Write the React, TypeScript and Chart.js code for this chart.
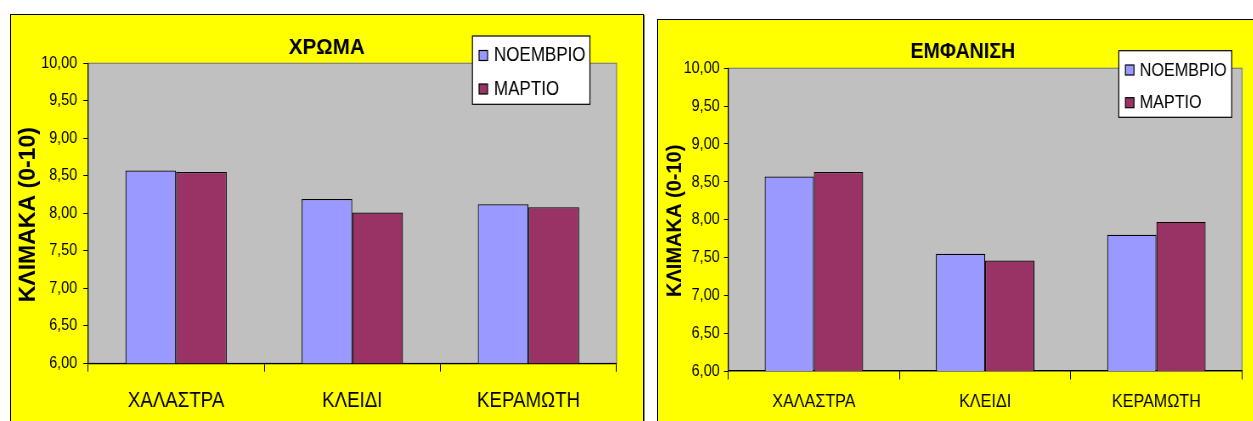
import React, { useEffect, useRef } from 'react';
import { Chart, registerables } from 'chart.js';

Chart.register(...registerables);

const FONT = "'Liberation Sans', Arial, Helvetica, sans-serif";
// Text in these panels is rendered narrow, so each canvas is drawn wider and squeezed horizontally.
const SQUISH = 0.85;

const categories = ['ΧΑΛΑΣΤΡΑ', 'ΚΛΕΙΔΙ', 'ΚΕΡΑΜΩΤΗ'];
const seriesLabels = ['ΝΟΕΜΒΡΙΟ', 'ΜΑΡΤΙΟ'];
const seriesColours = ['#9999FF', '#993366'];

const colourNovember = [8.57, 8.19, 8.12];
const colourMarch = [8.55, 8.01, 8.08];
const appearanceNovember = [8.57, 7.55, 7.8];
const appearanceMarch = [8.63, 7.46, 7.97];

const scaleMin = 6;
const scaleMax = 10;
const scaleStep = 0.5;
const yAxisTitle = 'ΚΛΙΜΑΚΑ (0-10)';
const panelTitles = ['ΧΡΩΜΑ', 'ΕΜΦΑΝΙΣΗ'];

type PanelSpec = {
  title: string;
  november: number[];
  march: number[];
  boxLeft: number;
  boxTop: number;
  innerWidth: number;
  canvasWidth: number;
  canvasHeight: number;
  plot: { left: number; top: number; right: number; bottom: number };
  yTick: { size: number; length: number; padding: number };
  xTick: { size: number; length: number; padding: number };
  titleStyle: { x: number; y: number; size: number; hs: number };
  yTitle: { x: number; y: number; size: number };
  legend: {
    left: number; top: number; right: number; bottom: number;
    size: number; swatchX: number; swatch: number;
    swatchTops: number[]; textX: number; baselines: number[];
  };
};

const panels: PanelSpec[] = [
  {
    title: panelTitles[0],
    november: colourNovember,
    march: colourMarch,
    boxLeft: 10,
    boxTop: 14,
    innerWidth: 632,
    canvasWidth: 744,
    canvasHeight: 410,
    plot: { left: 90.6, top: 48.3, right: 712.9, bottom: 348.3 },
    yTick: { size: 17, length: 5.5, padding: 7.1 },
    xTick: { size: 22, length: 8.4, padding: 15.6 },
    titleStyle: { x: 371.7, y: 39, size: 22, hs: 1.1 },
    yTitle: { x: 20.8, y: 199.7, size: 23 },
    legend: {
      left: 543.2, top: 21, right: 681.5, bottom: 89.3,
      size: 20, swatchX: 551, swatch: 10,
      swatchTops: [35.5, 69], textX: 568.6, baselines: [46, 79.5],
    },
  },
  {
    title: panelTitles[1],
    november: appearanceNovember,
    march: appearanceMarch,
    boxLeft: 657,
    boxTop: 19,
    innerWidth: 610,
    canvasWidth: 718,
    canvasHeight: 405,
    plot: { left: 82.7, top: 48.3, right: 687.4, bottom: 351 },
    yTick: { size: 17, length: 5, padding: 5 },
    xTick: { size: 19, length: 8.5, padding: 10.4 },
    titleStyle: { x: 358.8, y: 37.6, size: 22, hs: 1.05 },
    yTitle: { x: 20.9, y: 200.8, size: 20 },
    legend: {
      left: 542.4, top: 30.7, right: 675.3, bottom: 97.3,
      size: 19, swatchX: 550.2, swatch: 10,
      swatchTops: [45, 77.7], textX: 567, baselines: [55.7, 88.3],
    },
  },
];

function makeDecor(p: PanelSpec) {
  return {
    id: 'decor',
    beforeDraw(chart: any) {
      const { ctx, chartArea: a } = chart;
      ctx.save();
      ctx.fillStyle = '#C0C0C0';
      ctx.fillRect(a.left, a.top, a.right - a.left, a.bottom - a.top);
      ctx.strokeStyle = '#808080';
      ctx.lineWidth = 1.2;
      ctx.strokeRect(a.left, a.top, a.right - a.left, a.bottom - a.top);
      ctx.restore();
    },
    afterDraw(chart: any) {
      const { ctx } = chart;
      // panel title
      const t = p.titleStyle;
      ctx.save();
      ctx.translate(t.x, t.y);
      ctx.scale(t.hs, 1);
      ctx.font = `bold ${t.size}px ${FONT}`;
      ctx.fillStyle = '#000';
      ctx.textAlign = 'center';
      ctx.textBaseline = 'alphabetic';
      ctx.fillText(p.title, 0, 0);
      ctx.restore();

      // vertical axis title
      const y = p.yTitle;
      ctx.save();
      ctx.translate(y.x, y.y);
      ctx.scale(1 / SQUISH, 1);
      ctx.rotate(-Math.PI / 2);
      ctx.font = `bold ${y.size}px ${FONT}`;
      ctx.fillStyle = '#000';
      ctx.textAlign = 'center';
      ctx.textBaseline = 'middle';
      ctx.fillText(yAxisTitle, 0, 0);
      ctx.restore();

      // legend box
      const lg = p.legend;
      ctx.save();
      ctx.fillStyle = '#FFFFFF';
      ctx.fillRect(lg.left, lg.top, lg.right - lg.left, lg.bottom - lg.top);
      ctx.strokeStyle = '#000';
      ctx.lineWidth = 1.2;
      ctx.strokeRect(lg.left, lg.top, lg.right - lg.left, lg.bottom - lg.top);
      chart.data.datasets.forEach((ds: any, i: number) => {
        const top = lg.swatchTops[i];
        ctx.fillStyle = ds.backgroundColor;
        ctx.fillRect(lg.swatchX, top, lg.swatch, lg.swatch);
        ctx.strokeStyle = '#000';
        ctx.lineWidth = 1.2;
        ctx.strokeRect(lg.swatchX, top, lg.swatch, lg.swatch);
        ctx.fillStyle = '#000';
        ctx.font = `${lg.size}px ${FONT}`;
        ctx.textAlign = 'left';
        ctx.textBaseline = 'alphabetic';
        ctx.fillText(ds.label, lg.textX, lg.baselines[i]);
      });
      ctx.restore();
    },
  };
}

function Panel({ p }: { p: PanelSpec }) {
  const ref = useRef<HTMLCanvasElement | null>(null);

  useEffect(() => {
    if (!ref.current) return;
    const W = p.canvasWidth;
    const H = p.canvasHeight;
    const chart = new Chart(ref.current, {
      type: 'bar',
      data: {
        labels: categories,
        datasets: [
          {
            label: seriesLabels[0],
            data: p.november,
            backgroundColor: seriesColours[0],
            borderColor: '#000',
            borderWidth: 1.2,
            borderSkipped: false,
            categoryPercentage: 0.575,
            barPercentage: 1,
          },
          {
            label: seriesLabels[1],
            data: p.march,
            backgroundColor: seriesColours[1],
            borderColor: '#000',
            borderWidth: 1.2,
            borderSkipped: false,
            categoryPercentage: 0.575,
            barPercentage: 1,
          },
        ],
      },
      options: {
        responsive: true,
        maintainAspectRatio: false,
        animation: false,
        events: [],
        layout: { padding: { left: 0, top: p.plot.top, right: W - p.plot.right, bottom: 0 } },
        plugins: {
          legend: { display: false },
          title: { display: false },
          tooltip: { enabled: false },
        },
        scales: {
          x: {
            grid: {
              display: true,
              drawOnChartArea: false,
              drawTicks: true,
              tickLength: p.xTick.length,
              color: '#000',
              offset: true,
            },
            border: { display: true, color: '#000', width: 1.2 },
            ticks: {
              color: '#000',
              font: { family: FONT, size: p.xTick.size },
              padding: p.xTick.padding,
              maxRotation: 0,
              autoSkip: false,
            },
            afterFit: (s: any) => {
              s.height = H - p.plot.bottom;
            },
          },
          y: {
            min: scaleMin,
            max: scaleMax,
            grid: {
              drawOnChartArea: false,
              drawTicks: true,
              tickLength: p.yTick.length,
              color: '#000',
            },
            border: { display: true, color: '#000', width: 1.2 },
            ticks: {
              stepSize: scaleStep,
              color: '#000',
              font: { family: FONT, size: p.yTick.size },
              padding: p.yTick.padding,
              callback: (v: any) => Number(v).toFixed(2).replace('.', ','),
            },
            afterFit: (s: any) => {
              s.width = p.plot.left;
            },
          },
        },
      } as any,
      plugins: [makeDecor(p)],
    });
    return () => chart.destroy();
  }, [p]);

  return (
    <div
      style={{
        position: 'absolute',
        left: p.boxLeft,
        top: p.boxTop,
        width: p.innerWidth,
        height: 430,
        border: '1px solid #000',
        background: '#FFFF00',
        boxShadow: '1px 1px 0 #8a8a8a',
        overflow: 'hidden',
      }}
    >
      <div
        style={{
          position: 'absolute',
          left: 0,
          top: 0,
          width: p.canvasWidth,
          height: p.canvasHeight,
          transform: `scaleX(${p.innerWidth / p.canvasWidth})`,
          transformOrigin: '0 0',
        }}
      >
        <canvas ref={ref} />
      </div>
    </div>
  );
}

export default function App() {
  return (
    <div
      style={{
        position: 'absolute',
        left: 0,
        top: 0,
        width: 1253,
        height: 421,
        overflow: 'hidden',
        background: '#FFFFFF',
      }}
    >
      {panels.map((p, i) => (
        <Panel key={i} p={p} />
      ))}
    </div>
  );
}
